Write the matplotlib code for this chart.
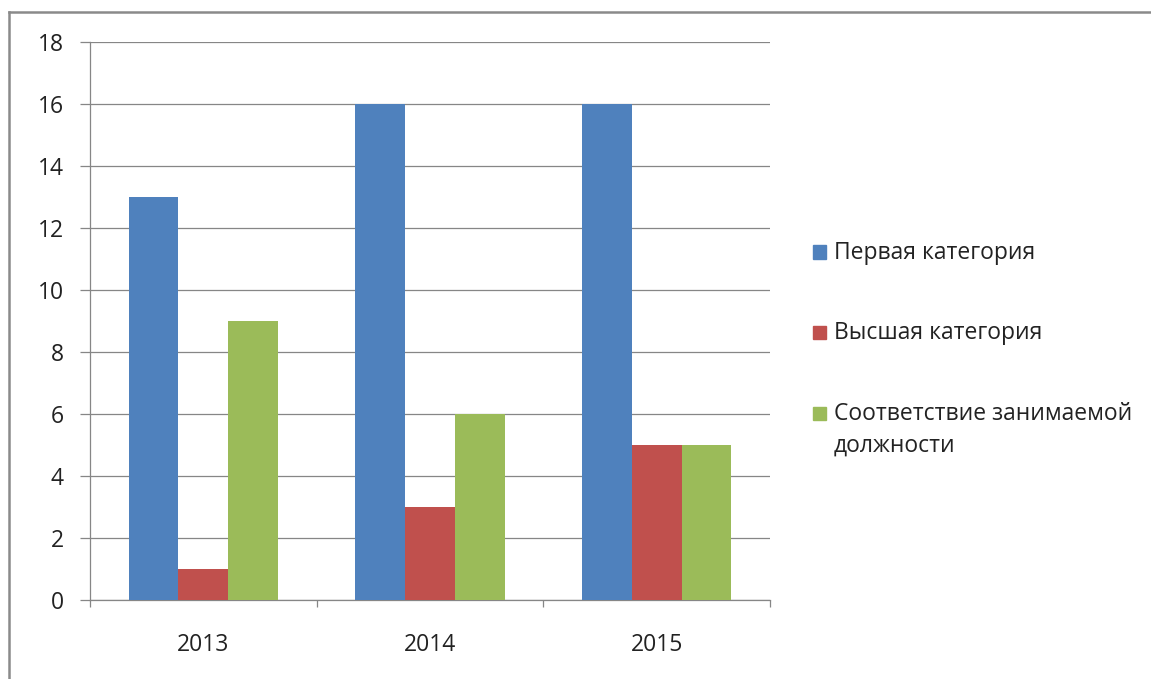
import numpy as np
import matplotlib
matplotlib.use("Agg")
import matplotlib.pyplot as plt
from matplotlib.patches import Rectangle
from matplotlib.lines import Line2D

GRAY = "#868686"
plt.rcParams["font.family"] = ["Open Sans", "DejaVu Sans"]

years = ["2013", "2014", "2015"]
series_names = ["Первая категория", "Высшая категория", "Соответствие занимаемой\nдолжности"]
first_cat = [13, 16, 16]
high_cat = [1, 3, 5]
position_match = [9, 6, 5]
colors = ["#4F81BD", "#C0504D", "#9BBB59"]
y_ticks = [0, 2, 4, 6, 8, 10, 12, 14, 16, 18]

fig = plt.figure(figsize=(11.51, 6.79), dpi=100)
ax = fig.add_axes([90 / 1151, 1 - 600 / 679, 680 / 1151, 558 / 679])

x = np.arange(len(years))
w = 0.22
for i, vals in enumerate([first_cat, high_cat, position_match]):
    ax.bar(x + (i - 1) * w, vals, width=w, color=colors[i], zorder=3)

ax.set_xlim(-0.5, 2.5)
ax.set_ylim(0, 18)
ax.set_yticks(y_ticks)
ax.set_xticks(x)
ax.set_xticklabels(years)
ax.set_xticks(np.arange(-0.5, 3, 1), minor=True)

ax.grid(axis="y", color=GRAY, linewidth=0.9, zorder=0)
for s in ["top", "right"]:
    ax.spines[s].set_visible(False)
for s in ["left", "bottom"]:
    ax.spines[s].set_color(GRAY)
    ax.spines[s].set_linewidth(0.9)

ax.tick_params(axis="y", length=7, width=0.9, color=GRAY, pad=12, labelsize=16.5, labelcolor="#222222")
ax.tick_params(axis="x", which="major", length=0, pad=24, labelsize=16.5, labelcolor="#222222")
ax.tick_params(axis="x", which="minor", length=5, width=0.9, color=GRAY)

# legend drawn by hand so the wrapped label keeps its square on the first line
leg_y = [252, 332, 413]
for name, c, yy in zip(series_names, colors, leg_y):
    fy = 1 - yy / 679
    fig.patches.append(Rectangle((813 / 1151, fy - 6.5 / 679), 13 / 1151, 13 / 679,
                                 transform=fig.transFigure, color=c))
    fig.text(834 / 1151, fy + 11 / 679, name, fontsize=16.5, color="#222222",
             va="top", ha="left", linespacing=1.45)

# outer frame (only top and left edges fall inside the picture)
fig.lines.append(Line2D([8.5 / 1151, 1.01], [1 - 12 / 679, 1 - 12 / 679],
                        transform=fig.transFigure, color="#8a8a8a", linewidth=1.8))
fig.lines.append(Line2D([8.5 / 1151, 8.5 / 1151], [-0.01, 1 - 12 / 679],
                        transform=fig.transFigure, color="#8a8a8a", linewidth=1.8))

fig.savefig("out.png", dpi=100)
